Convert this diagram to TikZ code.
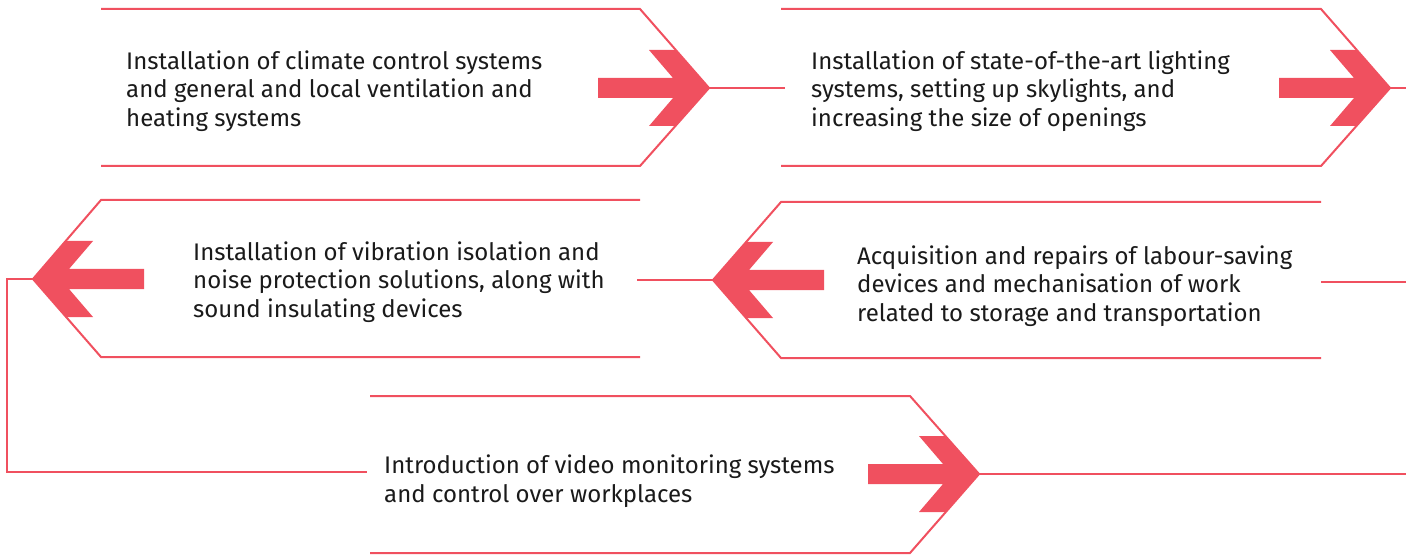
\documentclass[tikz,border=0pt]{standalone}
\usepackage{fontspec}
\setmainfont{Fira Sans}
\definecolor{accent}{RGB}{240,80,95}
\definecolor{ink}{RGB}{26,26,26}
\tikzset{
  boxline/.style={draw=accent, line width=2pt, line join=miter},
  conn/.style={draw=accent, line width=2pt},
  arrowfill/.style={fill=accent, draw=none},
  steptext/.style={anchor=west, align=left, inner sep=0pt, text=ink,
    font=\fontsize{24}{28.5}\selectfont},
}
\begin{document}
\begin{tikzpicture}[x=1pt,y=-1pt]
\useasboundingbox (0,0) rectangle (1406,556);
% tips and connector ends
\coordinate (t1) at (709,88);
\coordinate (t2) at (1390,88);
\coordinate (t3) at (33,279);
\coordinate (t4) at (713,280);
\coordinate (t5) at (979,474);
\coordinate (s2) at (785,88);
\coordinate (e2) at (1406,88);
\coordinate (s3) at (637,280);
\coordinate (e4) at (1406,282);
\coordinate (r4) at (1321,282);
\coordinate (k1) at (7,279);
\coordinate (k2) at (7,472);
\coordinate (s5) at (367,472);
\coordinate (e5) at (1406,474);
% boxes
\draw[boxline] (101,9) -- (640,9) -- (t1) -- (640,166) -- (101,166);
\draw[boxline] (781,9) -- (1321,9) -- (t2) -- (1321,166) -- (781,166);
\draw[boxline] (640,200) -- (101,200) -- (t3) -- (101,357) -- (640,357);
\draw[boxline] (1321,202) -- (781,202) -- (t4) -- (781,358) -- (1321,358);
\draw[boxline] (370,396) -- (910,396) -- (t5) -- (910,553) -- (370,553);
% connectors
\draw[conn] (t1) -- (s2);
\draw[conn] (t2) -- (e2);
\draw[conn] (s3) -- (t4);
\draw[conn] (r4) -- (e4);
\draw[conn] (t3) -- (k1) -- (k2) -- (s5);
\draw[conn] (t5) -- (e5);
% arrows
\foreach \t in {t1,t2,t5}{
  \fill[arrowfill] (\t) ++(-111,-10) -- ++(75,0) -- ++(-24,-28) -- ++(27,0)
    -- (\t) -- ++(-33,38) -- ++(-27,0) -- ++(24,-28) -- ++(-75,0) -- cycle;
}
\foreach \t in {t3,t4}{
  \fill[arrowfill] (\t) ++(111,-10) -- ++(-75,0) -- ++(24,-28) -- ++(-27,0)
    -- (\t) -- ++(33,38) -- ++(27,0) -- ++(-24,-28) -- ++(75,0) -- cycle;
}
% texts
\node[steptext] (n1) at (126,91) {Installation of climate control systems\\and general and local ventilation and\\heating systems};
\node[steptext] (n2) at (811,91) {Installation of state-of-the-art lighting\\systems, setting up skylights, and\\increasing the size of openings};
\node[steptext] (n3) at (193,282) {Installation of vibration isolation and\\noise protection solutions, along with\\sound insulating devices};
\node[steptext] (n4) at (857,286) {Acquisition and repairs of labour-saving\\devices and mechanisation of work\\related to storage and transportation};
\node[steptext] (n5) at (384,481) {Introduction of video monitoring systems\\and control over workplaces};
\end{tikzpicture}
\end{document}
